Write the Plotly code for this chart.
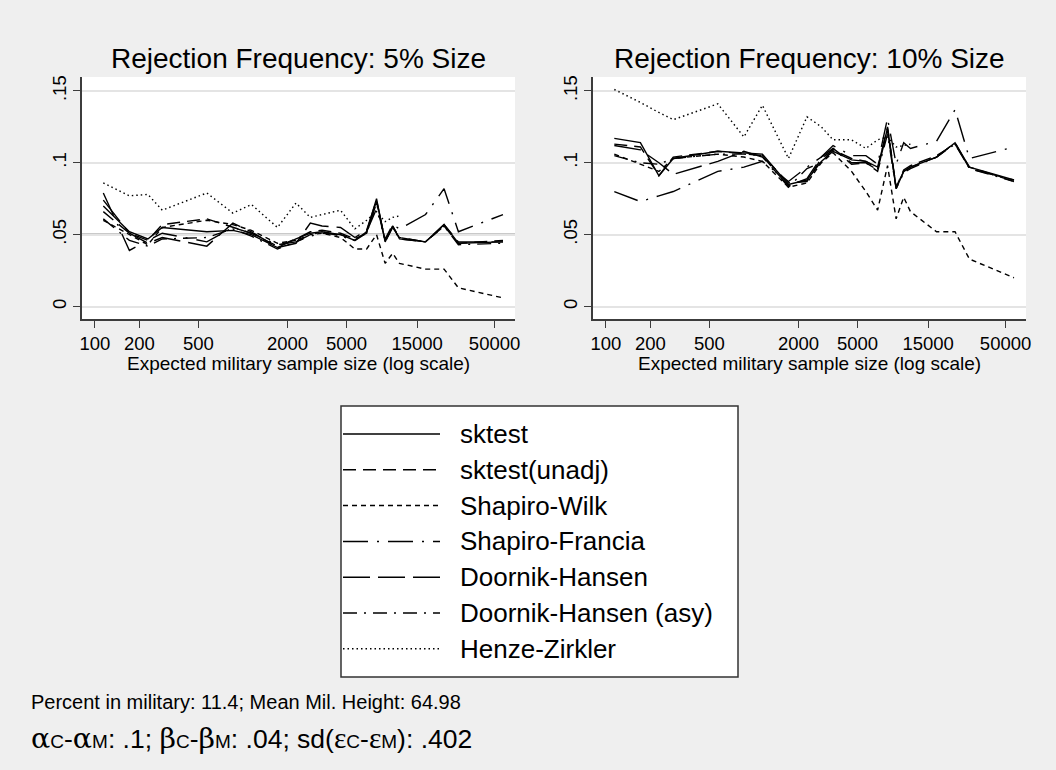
import plotly.graph_objects as go

W, H = 1056, 770

# ---------------- data ----------------
sizes = [114, 171, 228, 285, 570, 855, 1140, 1710, 2280, 2850, 3420, 4560,
         5700, 6840, 7980, 9120, 10260, 11400, 17100, 22800, 28500, 57000]

series_names = ["sktest", "sktest(unadj)", "Shapiro-Wilk", "Shapiro-Francia",
                "Doornik-Hansen", "Doornik-Hansen (asy)", "Henze-Zirkler"]

# Rejection frequency, 5% size
sktest_5 = [0.070, 0.052, 0.047, 0.055, 0.052, 0.053, 0.050, 0.041, 0.047, 0.051, 0.052, 0.050,
            0.046, 0.052, 0.075, 0.045, 0.056, 0.047, 0.045, 0.057, 0.044, 0.045]
unadj_5 = [0.066, 0.051, 0.046, 0.057, 0.061, 0.055, 0.051, 0.042, 0.047, 0.052, 0.053, 0.051,
           0.047, 0.051, 0.073, 0.046, 0.055, 0.048, 0.045, 0.056, 0.044, 0.046]
sw_5 = [0.060, 0.050, 0.043, 0.055, 0.060, 0.057, 0.053, 0.044, 0.046, 0.050, 0.051, 0.048,
        0.040, 0.040, 0.050, 0.030, 0.037, 0.030, 0.026, 0.026, 0.013, 0.006]
sf_5 = [0.079, 0.039, 0.046, 0.051, 0.045, 0.055, 0.051, 0.043, 0.045, 0.049, 0.051, 0.050,
        0.047, 0.052, 0.068, 0.047, 0.057, 0.054, 0.064, 0.082, 0.052, 0.064]
dh_5 = [0.074, 0.051, 0.044, 0.048, 0.042, 0.058, 0.052, 0.041, 0.044, 0.058, 0.056, 0.055,
        0.048, 0.053, 0.074, 0.046, 0.056, 0.048, 0.045, 0.057, 0.045, 0.045]
dhasy_5 = [0.061, 0.046, 0.042, 0.047, 0.048, 0.054, 0.049, 0.040, 0.045, 0.050, 0.052, 0.049,
           0.046, 0.051, 0.072, 0.045, 0.055, 0.047, 0.045, 0.056, 0.043, 0.044]
hz_5 = [0.086, 0.077, 0.078, 0.067, 0.079, 0.065, 0.071, 0.055, 0.072, 0.062, 0.064, 0.067,
        0.054, 0.060, 0.066, 0.059, 0.062, 0.063, None, None, None, None]

# Rejection frequency, 10% size
sktest_10 = [0.117, 0.114, 0.091, 0.103, 0.108, 0.107, 0.106, 0.085, 0.088, 0.101, 0.108, 0.102,
             0.101, 0.097, 0.124, 0.082, 0.094, 0.097, 0.104, 0.114, 0.097, 0.088]
unadj_10 = [0.113, 0.111, 0.091, 0.104, 0.108, 0.106, 0.105, 0.086, 0.087, 0.103, 0.109, 0.103,
            0.101, 0.096, 0.125, 0.083, 0.095, 0.098, 0.105, 0.113, 0.097, 0.087]
sw_10 = [0.106, 0.099, 0.094, 0.103, 0.106, 0.104, 0.101, 0.083, 0.086, 0.100, 0.107, 0.094,
         0.080, 0.067, 0.098, 0.061, 0.076, 0.066, 0.052, 0.052, 0.033, 0.020]
sf_10 = [0.080, 0.073, 0.077, 0.080, 0.094, 0.097, 0.101, 0.087, 0.097, 0.104, 0.112, 0.105,
         0.105, 0.099, 0.131, 0.099, 0.114, 0.110, 0.115, 0.137, 0.103, 0.111]
dh_10 = [0.112, 0.109, 0.100, 0.092, 0.101, 0.108, 0.104, 0.084, 0.089, 0.104, 0.110, 0.100,
         0.100, 0.095, 0.123, 0.083, 0.094, 0.097, 0.104, 0.114, 0.096, 0.088]
dhasy_10 = [0.105, 0.100, 0.099, 0.103, 0.106, 0.106, 0.105, 0.083, 0.096, 0.100, 0.110, 0.099,
            0.100, 0.094, 0.120, 0.082, 0.093, 0.096, 0.104, 0.113, 0.096, 0.087]
hz_10 = [0.151, 0.142, 0.135, 0.130, 0.141, 0.118, 0.140, 0.103, 0.132, 0.125, 0.116, 0.116,
         0.110, 0.116, 0.118, 0.111, 0.112, 0.113, None, None, None, None]

panel_titles = ["Rejection Frequency: 5% Size", "Rejection Frequency: 10% Size"]
nominal_sizes = [0.05, 0.10]
x_tick_vals = [100, 200, 500, 2000, 5000, 15000, 50000]
x_tick_text = ["100", "200", "500", "2000", "5000", "15000", "50000"]
y_tick_vals = [0, 0.05, 0.10, 0.15]
y_tick_text = ["0", ".05", ".1", ".15"]
x_title = "Expected military sample size (log scale)"
note1 = "Percent in military: 11.4; Mean Mil. Height: 64.98"

panel5 = [sktest_5, unadj_5, sw_5, sf_5, dh_5, dhasy_5, hz_5]
panel10 = [sktest_10, unadj_10, sw_10, sf_10, dh_10, dhasy_10, hz_10]

# ---------------- styles ----------------
dashes = ["solid", "13px,7px", "5px,4px", "25px,9px,2px,9px", "27px,8px",
          "14px,7px,2px,7px", "1.5px,3px"]
FONT = "Liberation Sans, Arial, sans-serif"
BG = "#efefef"
AX = "#3c3c3c"


def px(x):
    return x / W


def py(y):
    return 1 - y / H


fig = go.Figure()
for p, (panel, xa, ya) in enumerate([(panel5, "x", "y"), (panel10, "x2", "y2")]):
    for name, vals, dash in zip(series_names, panel, dashes):
        fig.add_trace(go.Scatter(
            x=sizes, y=vals, mode="lines", name=name, xaxis=xa, yaxis=ya,
            line=dict(color="black", width=1.4, dash=dash),
            connectgaps=False, showlegend=False, hoverinfo="skip"))

plot_top, plot_bot = 77, 319
dom_left = [px(82), px(515)]
dom_right = [px(593), px(1026)]
ydom = [py(plot_bot), py(plot_top)]

xcommon = dict(type="log", range=[1.913, 4.837], tickvals=x_tick_vals, ticktext=x_tick_text,
               ticks="outside", ticklen=7, tickwidth=1.3, tickcolor=AX,
               showline=True, linecolor=AX, linewidth=1.5, showgrid=False, zeroline=False,
               tickfont=dict(family=FONT, size=18.5, color="black"), automargin=False)
ycommon = dict(range=[-0.0087, 0.1597], tickvals=y_tick_vals, ticktext=y_tick_text,
               tickangle=-90, ticks="outside", ticklen=7, tickwidth=1.3, tickcolor=AX,
               showline=True, linecolor=AX, linewidth=1.5,
               showgrid=True, gridcolor="#e4e4e4", gridwidth=1.5, zeroline=False,
               tickfont=dict(family=FONT, size=18.5, color="black"), automargin=False)

fig.update_layout(
    width=W, height=H,
    margin=dict(l=0, r=0, t=0, b=0),
    paper_bgcolor=BG, plot_bgcolor="white",
    showlegend=False,
    font=dict(family=FONT, color="black"),
    xaxis=dict(domain=dom_left, anchor="y", **xcommon),
    yaxis=dict(domain=ydom, anchor="x", **ycommon),
    xaxis2=dict(domain=dom_right, anchor="y2", **xcommon),
    yaxis2=dict(domain=ydom, anchor="x2", **ycommon),
)

shapes = []
annotations = []

# reference lines at nominal size
for (xr, yr), lvl in zip([("x", "y"), ("x2", "y2")], nominal_sizes):
    shapes.append(dict(type="line", xref=xr + " domain", yref=yr, x0=0, x1=1, y0=lvl, y1=lvl,
                       line=dict(color="#2a2a2a", width=1.6), layer="below"))

# panel titles and x-axis titles
for dom, title in zip([dom_left, dom_right], panel_titles):
    cx = (dom[0] + dom[1]) / 2
    annotations.append(dict(text=title, x=cx, y=py(59), xref="paper", yref="paper",
                            xanchor="center", yanchor="middle", showarrow=False,
                            font=dict(family=FONT, size=28, color="black")))
    annotations.append(dict(text=x_title, x=cx, y=py(364), xref="paper", yref="paper",
                            xanchor="center", yanchor="middle", showarrow=False,
                            font=dict(family=FONT, size=19, color="black")))

# legend box
shapes.append(dict(type="rect", xref="paper", yref="paper", x0=px(341), x1=px(738),
                   y0=py(677), y1=py(406), line=dict(color="#333333", width=1.5),
                   fillcolor="white", layer="below"))
row0, step = 434, 35.8
for k, (name, dash) in enumerate(zip(series_names, dashes)):
    yk = row0 + k * step
    shapes.append(dict(type="line", xref="paper", yref="paper", x0=px(343), x1=px(440),
                       y0=py(yk), y1=py(yk), line=dict(color="black", width=1.5, dash=dash)))
    annotations.append(dict(text=name, x=px(458), y=py(yk), xref="paper", yref="paper",
                            xanchor="left", yanchor="middle", showarrow=False,
                            font=dict(family=FONT, size=26, color="black")))

# notes
annotations.append(dict(text=note1, x=px(29), y=py(702), xref="paper", yref="paper",
                        xanchor="left", yanchor="middle", showarrow=False,
                        font=dict(family=FONT, size=20, color="black")))
G = '<span style="font-family:DejaVu Serif;font-size:28.5px">%s</span>'
E = '<span style="font-family:Liberation Serif;font-size:29.5px">%s</span>'
S = '<span style="font-size:19px">%s</span>'
note2 = (G % "α" + S % "C" + "-" + G % "α" + S % "M" + ": .1; " +
         G % "β" + S % "C" + "-" + G % "β" + S % "M" + ": .04; sd(" +
         E % "ε" + S % "C" + "-" + E % "ε" + S % "M" + "): .402")
annotations.append(dict(text=note2, x=px(29), y=py(738), xref="paper", yref="paper",
                        xanchor="left", yanchor="middle", showarrow=False,
                        font=dict(family=FONT, size=26.5, color="black")))

fig.update_layout(shapes=shapes, annotations=annotations)
fig.write_html("out.html", config={"displayModeBar": False},
               post_script="document.body.style.margin='0';document.body.style.padding='0';")
